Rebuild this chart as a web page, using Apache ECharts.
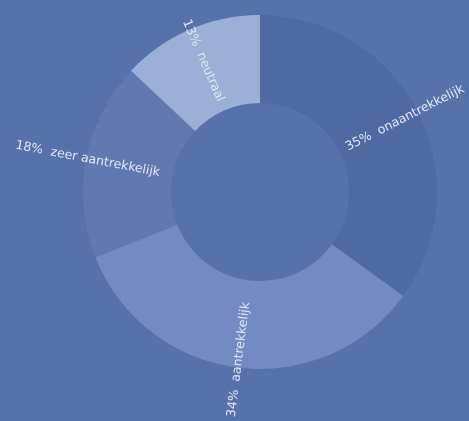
<!DOCTYPE html>
<html>
<head>
<meta charset="utf-8">
<script src="https://cdn.jsdelivr.net/npm/echarts@6/dist/echarts.min.js"></script>
<style>
  html, body { margin: 0; padding: 0; background: #5772aa; }
  #chart { width: 469px; height: 421px; }
</style>
</head>
<body>
<div id="chart"></div>
<script>
// Share of responses per rating, clockwise from the top
const categories = ['onaantrekkelijk', 'aantrekkelijk', 'zeer aantrekkelijk', 'neutraal'];
const percentages = [35, 34, 18, 13];
const sliceColors = ['#4f69a3', '#738bc2', '#6179b0', '#9cafd6'];
// How far inside the outer edge each label starts (px)
const labelInset = [-80, -66, -75, -78];

const chart = echarts.init(document.getElementById('chart'), null, { renderer: 'canvas' });

const data = categories.map((name, i) => ({
  name: name,
  value: percentages[i],
  itemStyle: { color: sliceColors[i] },
  labelLine: { length: labelInset[i], length2: 0, show: false }
}));

chart.setOption({
  backgroundColor: '#5772aa',
  animation: false,
  series: [{
    type: 'pie',
    center: [260, 192],
    radius: [89, 177],
    startAngle: 90,
    clockwise: true,
    avoidLabelOverlap: false,
    data: data,
    itemStyle: { borderWidth: 0 },
    label: {
      show: true,
      position: 'outside',
      rotate: 'radial',
      distanceToLabelLine: 0,
      color: '#dfe6f4',
      fontFamily: 'DejaVu Sans',
      fontSize: 12.5,
      formatter: p => p.value + '%  ' + p.name
    },
    labelLine: { show: false }
  }]
});
</script>
</body>
</html>
